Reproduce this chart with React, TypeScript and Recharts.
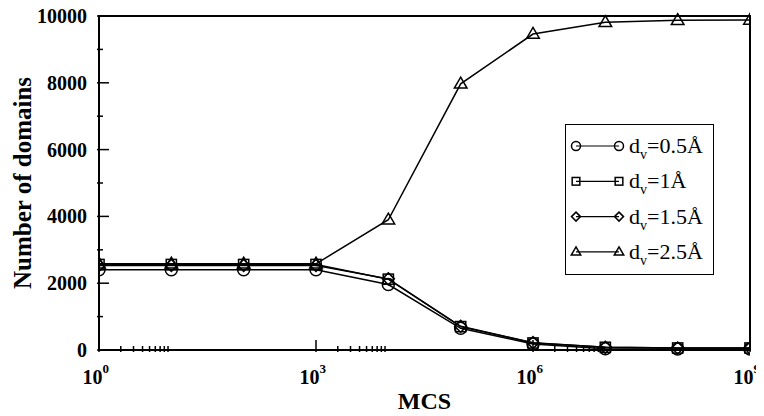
import {
  Legend,
  Line,
  LineChart,
  ReferenceArea,
  XAxis,
  YAxis,
} from "recharts";

const mcs = [1, 10, 100, 1e3, 1e4, 1e5, 1e6, 1e7, 1e8, 1e9];
const dv05 = [2400, 2400, 2400, 2400, 1960, 650, 180, 40, 30, 30];
const dv10 = [2560, 2560, 2560, 2560, 2120, 700, 210, 80, 60, 60];
const dv15 = [2530, 2530, 2530, 2530, 2130, 710, 220, 80, 60, 60];
const dv25 = [2580, 2580, 2580, 2580, 3900, 7970, 9460, 9810, 9870, 9880];

const xMajor = [1, 1e3, 1e6, 1e9];
const xExp = ["0", "3", "6", "9"];
const xMinor = [
  2, 3, 4, 5, 6, 7, 8, 9,
  2e3, 3e3, 4e3, 5e3, 6e3, 7e3, 8e3, 9e3,
  2e6, 3e6, 4e6, 5e6, 6e6, 7e6, 8e6, 9e6,
];
const yTicks = [0, 1000, 2000, 3000, 4000, 5000, 6000, 7000, 8000, 9000, 10000];

const legendLabels = ["0.5", "1", "1.5", "2.5"];

const data = mcs.map((x, i) => ({
  x,
  a: dv05[i],
  b: dv10[i],
  c: dv15[i],
  d: dv25[i],
}));

const FONT = "'Liberation Serif', 'Times New Roman', serif";

type Shape = "circle" | "square" | "diamond" | "triangle";

function Marker({ cx, cy, shape, s }: { cx: number; cy: number; shape: Shape; s: number }) {
  const common = { fill: "none", stroke: "#000", strokeWidth: 1.5 };
  if (shape === "circle") return <circle cx={cx} cy={cy} r={s} {...common} />;
  if (shape === "square")
    return <rect x={cx - s * 0.85} y={cy - s * 0.85} width={s * 1.7} height={s * 1.7} {...common} />;
  if (shape === "diamond")
    return (
      <polygon
        points={`${cx},${cy - s} ${cx + s},${cy} ${cx},${cy + s} ${cx - s},${cy}`}
        {...common}
      />
    );
  return (
    <polygon
      points={`${cx},${cy - s * 1.1} ${cx + s * 1.05},${cy + s * 0.7} ${cx - s * 1.05},${cy + s * 0.7}`}
      {...common}
    />
  );
}

const dotFor = (shape: Shape) => (p: any) =>
  <Marker key={p.index} cx={p.cx} cy={p.cy} shape={shape} s={6} />;

function XTick(props: any) {
  const { x, y, payload } = props;
  const v = payload.value;
  const k = xMajor.indexOf(v);
  const major = k >= 0;
  return (
    <g>
      <line x1={x} x2={x} y1={y} y2={y - (major ? 12 : 6)} stroke="#000" strokeWidth={1.5} />
      {major && (
        <>
          <text x={x + 3.5} y={y + 31.5} textAnchor="end" fontFamily={FONT} fontWeight="bold" fontSize={20} fill="#000">
            10
          </text>
          <text x={x + 3.5} y={y + 20.5} fontFamily={FONT} fontWeight="bold" fontSize={13} fill="#000">
            {xExp[k]}
          </text>
        </>
      )}
    </g>
  );
}

function YTick(props: any) {
  const { x, y, payload } = props;
  const v = payload.value;
  const major = v % 2000 === 0;
  return (
    <g>
      <line x1={x} x2={x + (major ? 12 : 6)} y1={y} y2={y} stroke="#000" strokeWidth={1.5} />
      {major && (
        <text x={x - 10} y={y + 7} textAnchor="end" fontFamily={FONT} fontWeight="bold" fontSize={20} fill="#000">
          {v}
        </text>
      )}
    </g>
  );
}

function LegendBox() {
  const shapes: Shape[] = ["circle", "square", "diamond", "triangle"];
  return (
    <div
      style={{
        width: 147,
        height: 149,
        border: "1.5px solid #000",
        background: "#fff",
      }}
    >
      <svg width={147} height={149}>
        {shapes.map((sh, i) => {
          const cy = 21 + i * 35.3;
          return (
            <g key={sh}>
              <line x1={10} x2={53} y1={cy} y2={cy} stroke="#000" strokeWidth={1.2} />
              <Marker cx={10} cy={cy} shape={sh} s={4.5} />
              <Marker cx={53} cy={cy} shape={sh} s={4.5} />
              <text x={63} y={cy + 7} fontFamily={FONT} fontSize={22} fill="#000">
                d
                <tspan dy={6} fontSize={14}>
                  v
                </tspan>
                <tspan dy={-6}>={legendLabels[i]}Å</tspan>
              </text>
            </g>
          );
        })}
      </svg>
    </div>
  );
}

export default function App() {
  return (
    <>
      <style>{"html, body { overflow: hidden; } .recharts-surface { overflow: visible; }"}</style>
      <LineChart
        width={756}
        height={408}
        data={data}
        margin={{ top: 8, right: 14, left: 0, bottom: 0 }}
      >
        <XAxis
          dataKey="x"
          type="number"
          scale="log"
          domain={[1, 1e9]}
          ticks={[...xMajor, ...xMinor]}
          interval={0}
          tickSize={0}
          tickLine={false}
          tick={<XTick />}
          height={66}
          axisLine={{ stroke: "#000", strokeWidth: 2 }}
          allowDataOverflow
          label={{
            content: (p: any) => {
              const vb = p.viewBox;
              return (
                <text
                  x={vb.x + vb.width / 2}
                  y={vb.y + 59}
                  textAnchor="middle"
                  fontFamily={FONT}
                  fontWeight="bold"
                  fontSize={24}
                  fill="#000"
                >
                  MCS
                </text>
              );
            },
          }}
        />
        <YAxis
          type="number"
          domain={[0, 10000]}
          ticks={yTicks}
          interval={0}
          tickSize={0}
          tickLine={false}
          tick={<YTick />}
          width={91}
          axisLine={{ stroke: "#000", strokeWidth: 2 }}
          label={{
            content: (p: any) => {
              const vb = p.viewBox;
              const cy = vb.y + vb.height / 2;
              return (
                <text
                  x={23}
                  y={cy}
                  transform={`rotate(-90 23 ${cy})`}
                  textAnchor="middle"
                  fontFamily={FONT}
                  fontWeight="bold"
                  fontSize={25}
                  fill="#000"
                >
                  Number of domains
                </text>
              );
            },
          }}
        />
        <ReferenceArea
          x1={1}
          x2={1e9}
          y1={0}
          y2={10000}
          fill="none"
          stroke="#000"
          strokeWidth={2}
          fillOpacity={0}
        />
        <Line dataKey="a" type="linear" stroke="#000" strokeWidth={1.5} dot={dotFor("circle")} isAnimationActive={false} />
        <Line dataKey="b" type="linear" stroke="#000" strokeWidth={1.5} dot={dotFor("square")} isAnimationActive={false} />
        <Line dataKey="c" type="linear" stroke="#000" strokeWidth={1.5} dot={dotFor("diamond")} isAnimationActive={false} />
        <Line dataKey="d" type="linear" stroke="#000" strokeWidth={1.5} dot={dotFor("triangle")} isAnimationActive={false} />
        <Legend
          layout="vertical"
          align="center"
          verticalAlign="middle"
          content={() => <LegendBox />}
          wrapperStyle={{ position: "absolute", left: 557, top: 116, width: 150 }}
        />
      </LineChart>
    </>
  );
}
